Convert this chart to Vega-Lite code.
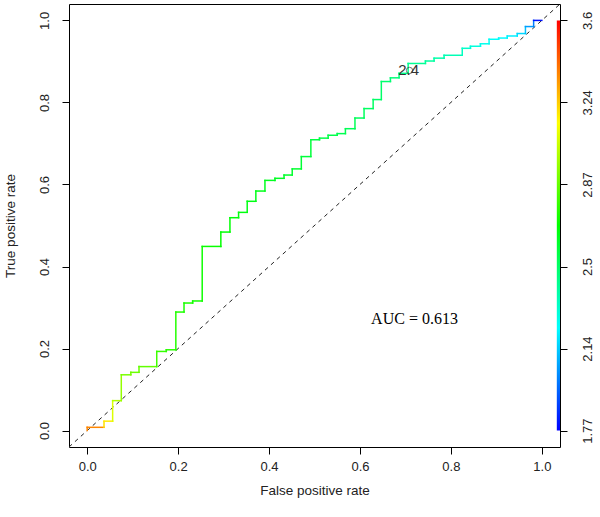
{
  "$schema": "https://vega.github.io/schema/vega-lite/v6.json",
  "width": 491,
  "height": 443,
  "autosize": "none",
  "padding": {"left": 69, "top": 4, "right": 40, "bottom": 70},
  "background": "white",
  "config": {
    "view": {"stroke": "black", "strokeWidth": 1},
    "axis": {
      "grid": false,
      "domain": false,
      "tickColor": "black",
      "tickSize": 7,
      "labelFont": "Liberation Sans",
      "labelFontSize": 13,
      "labelColor": "#222",
      "titleFont": "Liberation Sans",
      "titleFontSize": 13.5,
      "titleFontWeight": "normal",
      "titleColor": "#222"
    }
  },
  "layer": [
    {
      "data": {"values": [{}]},
      "mark": {"type": "rule", "strokeDash": [4, 4], "color": "#222", "strokeWidth": 1},
      "encoding": {
        "x": {"datum": -0.04, "type": "quantitative", "scale": {"domain": [-0.04, 1.04], "nice": false, "zero": false},
          "axis": {"values": [0, 0.2, 0.4, 0.6, 0.8, 1], "format": ".1f", "labelPadding": 6, "title": "False positive rate", "titleY": 43, "titleBaseline": "middle"}},
        "y": {"datum": -0.04, "type": "quantitative", "scale": {"domain": [-0.04, 1.04], "nice": false, "zero": false}, "axis": null},
        "x2": {"datum": 1.04},
        "y2": {"datum": 1.04}
      }
    },
    {
      "data": {"values": [
        {"fpr": 0, "tpr": 0, "cut": 3.36},
        {"fpr": 0, "tpr": 0.008, "cut": 3.36},
        {"fpr": 0.037, "tpr": 0.008, "cut": 3.2},
        {"fpr": 0.037, "tpr": 0.023, "cut": 3.18},
        {"fpr": 0.056, "tpr": 0.023, "cut": 3.08},
        {"fpr": 0.056, "tpr": 0.073, "cut": 3.0},
        {"fpr": 0.075, "tpr": 0.073, "cut": 2.95},
        {"fpr": 0.075, "tpr": 0.136, "cut": 2.9},
        {"fpr": 0.096, "tpr": 0.136, "cut": 2.9},
        {"fpr": 0.096, "tpr": 0.142, "cut": 2.88},
        {"fpr": 0.114, "tpr": 0.142, "cut": 2.87},
        {"fpr": 0.114, "tpr": 0.156, "cut": 2.86},
        {"fpr": 0.153, "tpr": 0.156, "cut": 2.8},
        {"fpr": 0.153, "tpr": 0.193, "cut": 2.78},
        {"fpr": 0.174, "tpr": 0.193, "cut": 2.76},
        {"fpr": 0.174, "tpr": 0.197, "cut": 2.76},
        {"fpr": 0.195, "tpr": 0.197, "cut": 2.75},
        {"fpr": 0.195, "tpr": 0.289, "cut": 2.74},
        {"fpr": 0.213, "tpr": 0.289, "cut": 2.73},
        {"fpr": 0.213, "tpr": 0.311, "cut": 2.73},
        {"fpr": 0.232, "tpr": 0.311, "cut": 2.72},
        {"fpr": 0.232, "tpr": 0.316, "cut": 2.72},
        {"fpr": 0.253, "tpr": 0.316, "cut": 2.71},
        {"fpr": 0.253, "tpr": 0.449, "cut": 2.7},
        {"fpr": 0.294, "tpr": 0.449, "cut": 2.69},
        {"fpr": 0.294, "tpr": 0.484, "cut": 2.68},
        {"fpr": 0.314, "tpr": 0.484, "cut": 2.68},
        {"fpr": 0.314, "tpr": 0.519, "cut": 2.67},
        {"fpr": 0.333, "tpr": 0.519, "cut": 2.66},
        {"fpr": 0.333, "tpr": 0.532, "cut": 2.66},
        {"fpr": 0.352, "tpr": 0.532, "cut": 2.65},
        {"fpr": 0.352, "tpr": 0.559, "cut": 2.65},
        {"fpr": 0.371, "tpr": 0.559, "cut": 2.64},
        {"fpr": 0.371, "tpr": 0.584, "cut": 2.64},
        {"fpr": 0.391, "tpr": 0.584, "cut": 2.63},
        {"fpr": 0.391, "tpr": 0.61, "cut": 2.63},
        {"fpr": 0.413, "tpr": 0.61, "cut": 2.62},
        {"fpr": 0.413, "tpr": 0.615, "cut": 2.62},
        {"fpr": 0.433, "tpr": 0.615, "cut": 2.61},
        {"fpr": 0.433, "tpr": 0.623, "cut": 2.61},
        {"fpr": 0.451, "tpr": 0.623, "cut": 2.6},
        {"fpr": 0.451, "tpr": 0.638, "cut": 2.6},
        {"fpr": 0.471, "tpr": 0.638, "cut": 2.59},
        {"fpr": 0.471, "tpr": 0.668, "cut": 2.58},
        {"fpr": 0.492, "tpr": 0.668, "cut": 2.58},
        {"fpr": 0.492, "tpr": 0.709, "cut": 2.57},
        {"fpr": 0.511, "tpr": 0.709, "cut": 2.57},
        {"fpr": 0.511, "tpr": 0.713, "cut": 2.56},
        {"fpr": 0.53, "tpr": 0.713, "cut": 2.56},
        {"fpr": 0.53, "tpr": 0.72, "cut": 2.55},
        {"fpr": 0.55, "tpr": 0.72, "cut": 2.55},
        {"fpr": 0.55, "tpr": 0.724, "cut": 2.54},
        {"fpr": 0.568, "tpr": 0.724, "cut": 2.54},
        {"fpr": 0.568, "tpr": 0.736, "cut": 2.53},
        {"fpr": 0.589, "tpr": 0.736, "cut": 2.53},
        {"fpr": 0.589, "tpr": 0.762, "cut": 2.52},
        {"fpr": 0.609, "tpr": 0.762, "cut": 2.52},
        {"fpr": 0.609, "tpr": 0.785, "cut": 2.51},
        {"fpr": 0.629, "tpr": 0.785, "cut": 2.51},
        {"fpr": 0.629, "tpr": 0.807, "cut": 2.5},
        {"fpr": 0.647, "tpr": 0.807, "cut": 2.5},
        {"fpr": 0.647, "tpr": 0.851, "cut": 2.49},
        {"fpr": 0.667, "tpr": 0.851, "cut": 2.48},
        {"fpr": 0.667, "tpr": 0.86, "cut": 2.47},
        {"fpr": 0.686, "tpr": 0.86, "cut": 2.46},
        {"fpr": 0.686, "tpr": 0.871, "cut": 2.45},
        {"fpr": 0.706, "tpr": 0.871, "cut": 2.44},
        {"fpr": 0.706, "tpr": 0.895, "cut": 2.42},
        {"fpr": 0.744, "tpr": 0.895, "cut": 2.41},
        {"fpr": 0.744, "tpr": 0.901, "cut": 2.4},
        {"fpr": 0.763, "tpr": 0.901, "cut": 2.39},
        {"fpr": 0.763, "tpr": 0.908, "cut": 2.38},
        {"fpr": 0.785, "tpr": 0.908, "cut": 2.37},
        {"fpr": 0.785, "tpr": 0.915, "cut": 2.36},
        {"fpr": 0.825, "tpr": 0.915, "cut": 2.34},
        {"fpr": 0.825, "tpr": 0.932, "cut": 2.32},
        {"fpr": 0.843, "tpr": 0.932, "cut": 2.3},
        {"fpr": 0.843, "tpr": 0.937, "cut": 2.29},
        {"fpr": 0.865, "tpr": 0.937, "cut": 2.27},
        {"fpr": 0.865, "tpr": 0.943, "cut": 2.26},
        {"fpr": 0.884, "tpr": 0.943, "cut": 2.25},
        {"fpr": 0.884, "tpr": 0.954, "cut": 2.24},
        {"fpr": 0.905, "tpr": 0.954, "cut": 2.23},
        {"fpr": 0.905, "tpr": 0.957, "cut": 2.22},
        {"fpr": 0.924, "tpr": 0.957, "cut": 2.21},
        {"fpr": 0.924, "tpr": 0.962, "cut": 2.2},
        {"fpr": 0.946, "tpr": 0.962, "cut": 2.18},
        {"fpr": 0.946, "tpr": 0.968, "cut": 2.16},
        {"fpr": 0.964, "tpr": 0.968, "cut": 2.12},
        {"fpr": 0.964, "tpr": 0.985, "cut": 2.05},
        {"fpr": 0.982, "tpr": 0.985, "cut": 2.0},
        {"fpr": 0.982, "tpr": 1.0, "cut": 1.8},
        {"fpr": 1.0, "tpr": 1.0, "cut": 1.77}
      ]},
      "transform": [
        {"window": [{"op": "lead", "field": "fpr", "as": "fpr2"}, {"op": "lead", "field": "tpr", "as": "tpr2"}],
         "sort": [{"field": "fpr", "order": "ascending"}, {"field": "tpr", "order": "ascending"}]},
        {"filter": "datum.fpr2 != null"}
      ],
      "mark": {"type": "rule", "strokeWidth": 1.5, "strokeCap": "square"},
      "encoding": {
        "x": {"field": "fpr", "type": "quantitative", "scale": {"domain": [-0.04, 1.04], "nice": false, "zero": false}, "axis": null},
        "x2": {"field": "fpr2"},
        "y": {"field": "tpr", "type": "quantitative", "scale": {"domain": [-0.04, 1.04], "nice": false, "zero": false},
          "axis": {"orient": "left", "values": [0, 0.2, 0.4, 0.6, 0.8, 1], "format": ".1f", "labelAngle": 270, "labelAlign": "center", "labelBaseline": "alphabetic", "labelPadding": 14,
            "title": "True positive rate", "titleAngle": 270, "titleX": -59, "titleY": 221.5, "titleAlign": "center", "titleBaseline": "middle"}},
        "y2": {"field": "tpr2"},
        "color": {"field": "cut", "type": "quantitative", "legend": null,
          "scale": {"domain": [1.77, 2.2275, 2.685, 3.1425, 3.6], "range": ["#0000FF", "#00FFFF", "#00FF00", "#FFFF00", "#FF0000"], "interpolate": "rgb"}}
      }
    },
    {
      "data": {"values": [{}]},
      "mark": {"type": "rect", "fill": {"gradient": "linear", "x1": 0, "y1": 1, "x2": 0, "y2": 0,
        "stops": [{"offset": 0, "color": "#0000FF"}, {"offset": 0.25, "color": "#00FFFF"}, {"offset": 0.5, "color": "#00FF00"}, {"offset": 0.75, "color": "#FFFF00"}, {"offset": 1, "color": "#FF0000"}]}},
      "encoding": {
        "x": {"datum": 1.033, "type": "quantitative", "scale": {"domain": [-0.04, 1.04], "nice": false, "zero": false}, "axis": null},
        "x2": {"datum": 1.04},
        "y": {"datum": 0, "type": "quantitative", "scale": {"domain": [-0.04, 1.04], "nice": false, "zero": false},
          "axis": {"orient": "right", "values": [0, 0.2, 0.4, 0.6, 0.8, 1], "labelExpr": "['1.77','2.14','2.5','2.87','3.24','3.6'][round(datum.value*5)]",
            "labelAngle": 270, "labelAlign": "center", "labelBaseline": "alphabetic", "labelPadding": 24, "title": null}},
        "y2": {"datum": 1}
      }
    },
    {
      "data": {"values": [{}]},
      "mark": {"type": "text", "text": "AUC = 0.613", "font": "Liberation Serif", "fontSize": 16, "color": "black", "align": "center", "baseline": "middle"},
      "encoding": {
        "x": {"datum": 0.72, "type": "quantitative", "scale": {"domain": [-0.04, 1.04], "nice": false, "zero": false}, "axis": null},
        "y": {"datum": 0.273, "type": "quantitative", "scale": {"domain": [-0.04, 1.04], "nice": false, "zero": false}, "axis": null}
      }
    },
    {
      "data": {"values": [{}]},
      "mark": {"type": "text", "text": "2.4", "font": "Liberation Sans", "fontSize": 15, "color": "#333", "align": "center", "baseline": "middle", "letterSpacing": 1.5},
      "encoding": {
        "x": {"datum": 0.707, "type": "quantitative", "scale": {"domain": [-0.04, 1.04], "nice": false, "zero": false}, "axis": null},
        "y": {"datum": 0.88, "type": "quantitative", "scale": {"domain": [-0.04, 1.04], "nice": false, "zero": false}, "axis": null}
      }
    },
    {
      "data": {"values": [{}]},
      "mark": {"type": "point", "shape": "circle", "size": 40, "stroke": "#333", "strokeWidth": 1, "filled": false},
      "encoding": {
        "x": {"datum": 0.709, "type": "quantitative", "scale": {"domain": [-0.04, 1.04], "nice": false, "zero": false}, "axis": null},
        "y": {"datum": 0.878, "type": "quantitative", "scale": {"domain": [-0.04, 1.04], "nice": false, "zero": false}, "axis": null}
      }
    }
  ],
  "resolve": {"axis": {"x": "independent", "y": "independent"}}
}
